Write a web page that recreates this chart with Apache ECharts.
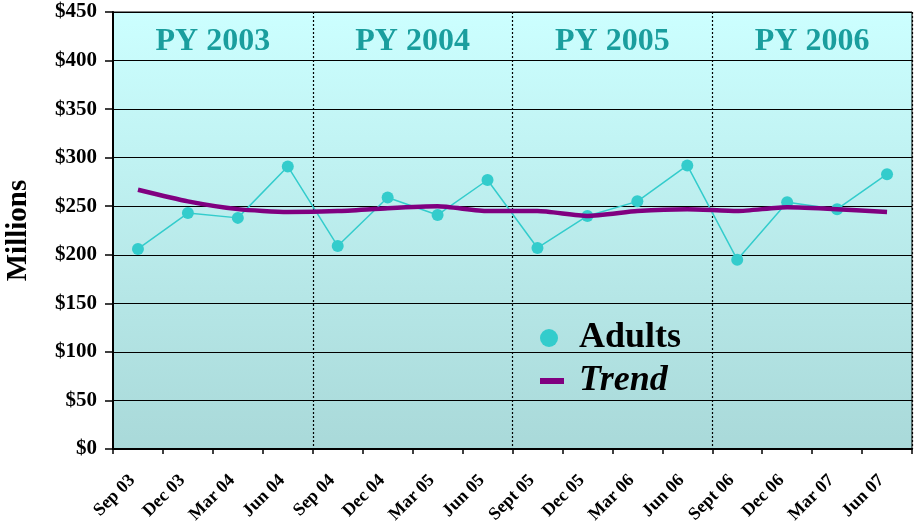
<!DOCTYPE html>
<html>
<head>
<meta charset="utf-8">
<script src="https://cdn.jsdelivr.net/npm/echarts@6/dist/echarts.min.js"></script>
<style>
  html, body { margin: 0; padding: 0; background: #fff; }
  #chart { width: 916px; height: 527px; }
</style>
</head>
<body>
<div id="chart"></div>
<script>
// quarters on the x axis
const quarters = ["Sep 03", "Dec 03", "Mar 04", "Jun 04", "Sep 04", "Dec 04", "Mar 05", "Jun 05",
  "Sept 05", "Dec 05", "Mar 06", "Jun 06", "Sept 06", "Dec 06", "Mar 07", "Jun 07"];
// $ millions
const adults = [206, 243, 238, 291, 209, 259, 241, 277, 207, 240, 255, 292, 195, 254, 247, 283];
const trend = [267, 255, 247, 244, 245, 248, 250, 245, 245, 240, 245, 247, 245, 249, 247, 244];
// program year bands: [first quarter, last quarter, label]
const programYears = [
  ["Sep 03", "Jun 04", "PY 2003"],
  ["Sep 04", "Jun 05", "PY 2004"],
  ["Sept 05", "Jun 06", "PY 2005"],
  ["Sept 06", "Jun 07", "PY 2006"]
];

const serif = "'Liberation Serif', 'Times New Roman', serif";
const chart = echarts.init(document.getElementById("chart"));

chart.setOption({
  animation: false,
  grid: {
    left: 113,
    right: 4,
    top: 12,
    bottom: 78,
    outerBoundsMode: "none",
    containLabel: false,
    show: true,
    borderColor: "#000",
    borderWidth: 1,
    backgroundColor: new echarts.graphic.LinearGradient(0, 0, 0, 1, [
      { offset: 0, color: "#CCFFFF" },
      { offset: 1, color: "#A9D9D9" }
    ])
  },
  legend: [
    {
      data: [{ name: "Adults", icon: "circle" }],
      left: 535,
      top: 315,
      itemWidth: 22,
      itemHeight: 18,
      textStyle: { fontFamily: serif, fontWeight: "bold", fontSize: 36, color: "#000", padding: [0, 0, 0, 14] }
    },
    {
      data: [{ name: "Trend", icon: "rect" }],
      left: 535,
      top: 358,
      itemWidth: 24,
      itemHeight: 6,
      textStyle: { fontFamily: serif, fontWeight: "bold", fontStyle: "italic", fontSize: 36, color: "#000", padding: [0, 0, 0, 10] }
    }
  ],
  xAxis: {
    type: "category",
    data: quarters,
    boundaryGap: true,
    axisLine: { lineStyle: { color: "#000", width: 2 } },
    axisTick: { show: true, length: 5, lineStyle: { color: "#000", width: 1.5 } },
    axisLabel: {
      interval: 0,
      rotate: 45,
      margin: 23,
      padding: [0, 8, 0, 0],
      color: "#000",
      fontFamily: serif,
      fontWeight: "bold",
      fontSize: 18
    },
    splitLine: {
      show: true,
      interval: function (i) { return i === 4 || i === 8 || i === 12; },
      lineStyle: { color: "#000", type: [2, 2], width: 1.2 }
    }
  },
  yAxis: {
    type: "value",
    min: 0,
    max: 450,
    interval: 50,
    name: "Millions",
    nameLocation: "middle",
    nameGap: 80,
    nameTextStyle: { fontFamily: serif, fontWeight: "bold", fontSize: 29, color: "#000" },
    axisLine: { show: true, lineStyle: { color: "#000", width: 2 } },
    axisTick: { show: true, length: 8, lineStyle: { color: "#000", width: 1.5 } },
    axisLabel: {
      margin: 16,
      color: "#000",
      fontFamily: serif,
      fontWeight: "bold",
      fontSize: 21,
      formatter: "${value}"
    },
    splitLine: { show: true, lineStyle: { color: "#000", width: 1 } }
  },
  series: [
    {
      name: "Adults",
      type: "line",
      data: adults,
      color: "#33CCCC",
      symbol: "circle",
      symbolSize: 12,
      lineStyle: { color: "#33CCCC", width: 1.5 },
      itemStyle: { color: "#33CCCC" },
      z: 3,
      markArea: {
        silent: true,
        itemStyle: { color: "rgba(0,0,0,0)" },
        label: {
          show: true,
          position: "inside",
          offset: [0, 5],
          color: "#1A9E9E",
          fontFamily: serif,
          fontWeight: "bold",
          fontSize: 32
        },
        data: programYears.map(p => [
          { name: p[2], xAxis: p[0], yAxis: 400 },
          { xAxis: p[1], yAxis: 450 }
        ])
      }
    },
    {
      name: "Trend",
      type: "line",
      data: trend,
      color: "#800080",
      symbol: "none",
      smooth: 0.2,
      lineStyle: { color: "#800080", width: 4.5 },
      z: 4
    }
  ]
});
</script>
</body>
</html>
